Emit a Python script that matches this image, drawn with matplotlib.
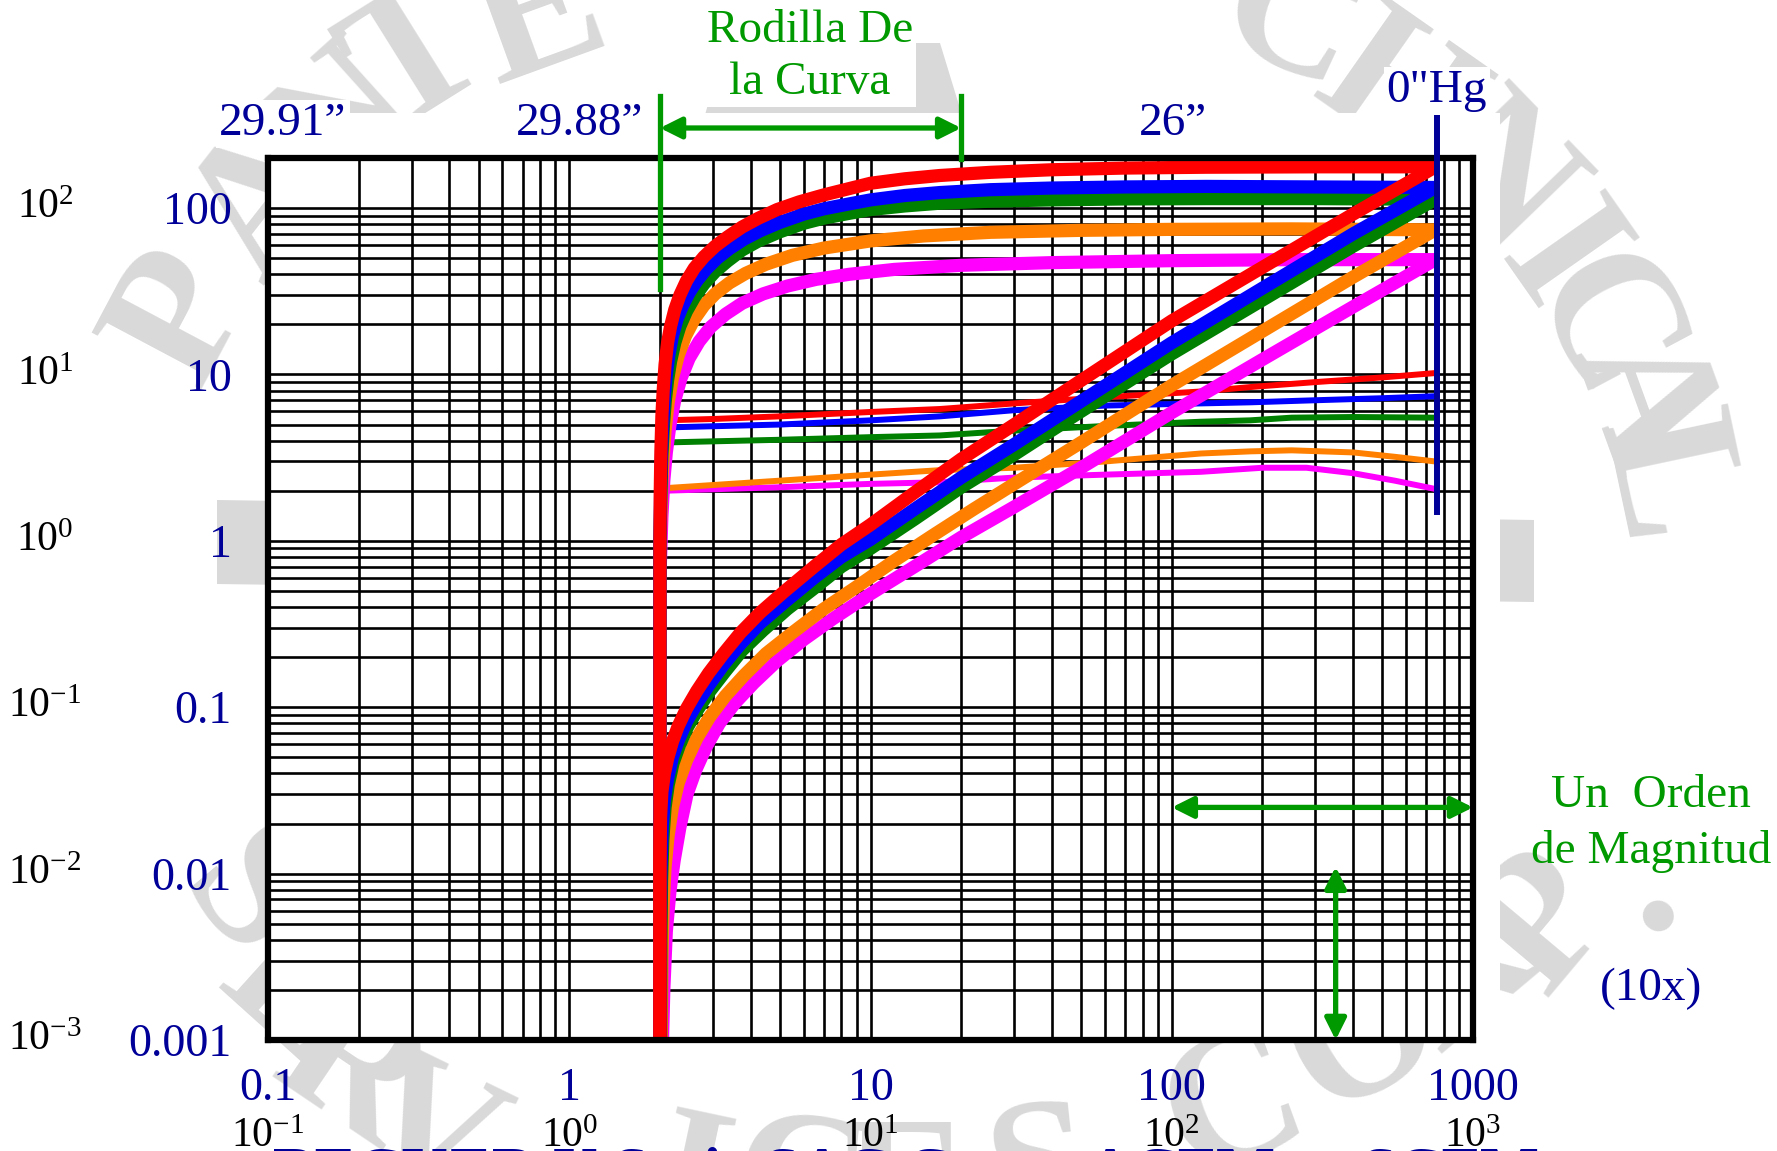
import matplotlib
matplotlib.use('Agg')
import matplotlib.pyplot as plt
from matplotlib.ticker import LogLocator, NullFormatter, FixedLocator, FixedFormatter
from matplotlib.transforms import blended_transform_factory
from matplotlib.patches import Polygon, Rectangle
from matplotlib.lines import Line2D

plt.rcParams['font.family'] = ['Liberation Serif', 'DejaVu Serif']
plt.rcParams['mathtext.default'] = 'regular'

# ---------------- data ----------------
x_ticks = [0.1, 1, 10, 100, 1000]
x_tick_labels = ['0.1', '1', '10', '100', '1000']
x_exp_labels = [r'$10^{-1}$', r'$10^{0}$', r'$10^{1}$', r'$10^{2}$', r'$10^{3}$']
y_ticks = [0.001, 0.01, 0.1, 1, 10, 100]
y_tick_labels = ['0.001', '0.01', '0.1', '1', '10', '100']
y_exp_labels = [r'$10^{-3}$', r'$10^{-2}$', r'$10^{-1}$', r'$10^{0}$', r'$10^{1}$', r'$10^{2}$']

# ACFM (plateau) curves
red_acfm_x = [2.0, 2.0, 2.005, 2.015, 2.03, 2.05, 2.08, 2.12, 2.17, 2.24, 2.33, 2.45, 2.6, 2.8, 3.05, 3.35, 3.75, 4.25, 4.9, 5.8, 7, 8.5, 10, 13, 17, 25, 40, 70, 130, 300, 750]
red_acfm_y = [0.001, 1, 2, 3.5, 5.6, 8, 11.5, 15.5, 19.5, 24.5, 30, 36.5, 43.5, 51, 59, 67, 77, 87, 98, 109, 120, 131, 141, 150, 157, 164, 170, 174, 176, 177, 177]
blue_acfm_x = [2.0, 2.0, 2.01, 2.025, 2.045, 2.07, 2.1, 2.14, 2.2, 2.28, 2.38, 2.5, 2.65, 2.85, 3.1, 3.4, 3.8, 4.3, 5, 6, 7, 8.5, 10, 13, 17, 25, 40, 70, 130, 300, 750]
blue_acfm_y = [0.001, 1, 2, 3.5, 5.2, 7.5, 10, 13, 17, 21.5, 26, 31, 36.5, 43, 50, 57, 65, 73, 82, 92, 99, 106, 112, 119, 124, 129, 132, 134, 135, 134, 133]
green_acfm_x = [2.0, 2.0, 2.015, 2.03, 2.055, 2.085, 2.12, 2.17, 2.24, 2.33, 2.45, 2.6, 2.8, 3.05, 3.35, 3.75, 4.25, 5, 6, 7, 8.5, 10, 13, 17, 25, 40, 70, 130, 300, 750]
green_acfm_y = [0.001, 1, 2, 3.3, 5, 7, 9.2, 12, 15.5, 19.5, 24, 29, 35, 41.5, 48, 56, 63.5, 72, 81, 87, 93, 98, 103, 107, 110, 112, 113.5, 114, 114, 113]
orange_acfm_x = [2.0, 2.0, 2.02, 2.045, 2.08, 2.13, 2.2, 2.3, 2.43, 2.6, 2.8, 3.05, 3.4, 3.85, 4.5, 5.5, 7, 10, 15, 25, 50, 100, 250, 750]
orange_acfm_y = [0.001, 0.8, 1.8, 3, 4.6, 6.8, 9.5, 13, 17, 21.5, 26, 30.5, 35.5, 40.5, 46, 52, 57.5, 63.5, 68, 71.5, 73.5, 74.5, 75, 74]
magenta_acfm_x = [2.0, 2.0, 2.03, 2.06, 2.1, 2.16, 2.24, 2.35, 2.5, 2.7, 2.95, 3.3, 3.75, 4.4, 5.3, 6.6, 8.5, 12, 20, 40, 100, 250, 750]
magenta_acfm_y = [0.001, 0.6, 1.4, 2.3, 3.4, 5, 7, 9.5, 12.5, 15.8, 19.3, 23, 26.8, 30.5, 34, 37.3, 40, 42.8, 45.3, 47, 48.3, 49, 49]

# SCFM (diagonal) curves
red_scfm_x = [2.0, 2.0, 2.01, 2.03, 2.07, 2.12, 2.2, 2.3, 2.45, 2.65, 2.9, 3.25, 3.7, 4.3, 5.2, 6.5, 8, 10, 14, 20, 30, 50, 100, 200, 400, 750]
red_scfm_y = [0.001, 0.012, 0.022, 0.031, 0.04, 0.049, 0.062, 0.077, 0.098, 0.125, 0.16, 0.21, 0.28, 0.37, 0.5, 0.7, 0.95, 1.25, 1.95, 3.1, 5.0, 9.2, 21, 44, 92, 177]
blue_scfm_x = [2.0, 2.005, 2.015, 2.035, 2.07, 2.12, 2.2, 2.3, 2.45, 2.65, 2.9, 3.25, 3.7, 4.3, 5.2, 6.5, 8, 10, 14, 20, 30, 50, 100, 200, 400, 750]
blue_scfm_y = [0.001, 0.004, 0.01, 0.019, 0.028, 0.037, 0.05, 0.063, 0.082, 0.105, 0.135, 0.18, 0.24, 0.32, 0.43, 0.6, 0.8, 1.02, 1.55, 2.4, 3.8, 6.9, 15.5, 33, 70, 133]
green_scfm_x = [2.01, 2.015, 2.025, 2.045, 2.08, 2.13, 2.21, 2.32, 2.47, 2.67, 2.93, 3.3, 3.75, 4.4, 5.3, 6.6, 8, 10, 14, 20, 30, 50, 100, 200, 400, 750]
green_scfm_y = [0.001, 0.004, 0.009, 0.016, 0.025, 0.034, 0.046, 0.059, 0.076, 0.097, 0.125, 0.165, 0.22, 0.29, 0.39, 0.53, 0.7, 0.9, 1.35, 2.1, 3.3, 6.0, 13.3, 28, 59, 113]
orange_scfm_x = [2.02, 2.03, 2.05, 2.08, 2.13, 2.2, 2.3, 2.45, 2.65, 2.92, 3.3, 3.8, 4.5, 5.5, 7, 9, 12, 16, 22, 30, 50, 100, 200, 400, 750]
orange_scfm_y = [0.001, 0.003, 0.0065, 0.011, 0.017, 0.025, 0.035, 0.048, 0.065, 0.087, 0.117, 0.155, 0.21, 0.28, 0.39, 0.53, 0.76, 1.07, 1.55, 2.2, 3.9, 8.6, 18.2, 38.5, 74]
magenta_scfm_x = [2.04, 2.06, 2.1, 2.16, 2.23, 2.33, 2.46, 2.63, 2.85, 3.15, 3.55, 4.1, 4.9, 6, 7.5, 10, 14, 20, 30, 50, 100, 200, 400, 750]
magenta_scfm_y = [0.001, 0.002, 0.0045, 0.0079, 0.012, 0.019, 0.03, 0.042, 0.058, 0.08, 0.106, 0.14, 0.19, 0.255, 0.34, 0.48, 0.7, 1.05, 1.6, 2.75, 5.9, 12.3, 25.5, 49]

# thin curves
red_thin_x = [2.05, 3, 5, 10, 17, 30, 60, 125, 182, 300, 500, 750]
red_thin_y = [5.3, 5.4, 5.6, 5.95, 6.2, 6.7, 7.3, 7.9, 8.4, 9.0, 9.6, 10.2]
blue_thin_x = [2.05, 5, 10, 17, 30, 60, 125, 182, 300, 500, 750]
blue_thin_y = [4.8, 5.0, 5.3, 5.6, 6.1, 6.5, 6.7, 6.8, 7.0, 7.2, 7.4]
green_thin_x = [2.05, 5, 10, 17, 30, 60, 125, 182, 250, 400, 750]
green_thin_y = [3.9, 4.05, 4.2, 4.3, 4.6, 4.9, 5.2, 5.3, 5.5, 5.55, 5.5]
orange_thin_x = [2.05, 5, 10, 17, 30, 60, 125, 182, 250, 400, 550, 750]
orange_thin_y = [2.07, 2.3, 2.5, 2.66, 2.75, 3.0, 3.35, 3.45, 3.5, 3.4, 3.2, 3.0]
magenta_thin_x = [2.05, 5, 10, 17, 30, 60, 125, 200, 280, 400, 550, 750]
magenta_thin_y = [2.0, 2.1, 2.2, 2.25, 2.4, 2.5, 2.6, 2.75, 2.75, 2.55, 2.3, 2.05]

# annotation reference values
knee_left_x = 2.0
knee_right_x = 20.0
atm_x = 760.0
order_arrow_y = 0.025
order_arrow_x0, order_arrow_x1 = 100, 1000
vert_arrow_x = 350
vert_arrow_y0, vert_arrow_y1 = 0.001, 0.011

# ---------------- style ----------------
W, H = 1777, 1151
RED, BLUE, GREEN, ORANGE, MAGENTA = '#ff0000', '#0000ff', '#008000', '#ff8000', '#ff00ff'
NAVY = '#000099'
AGREEN = '#009900'
WM = '#d9d9d9'

fig = plt.figure(figsize=(W / 100, H / 100), dpi=100)
fig.patch.set_facecolor('white')

def fx(px):
    return px / W

def fy(py):
    return 1 - py / H

ax = fig.add_axes([fx(268), fy(1040), fx(1473) - fx(268), fy(158) - fy(1040)])
ax.set_xscale('log')
ax.set_yscale('log')
ax.set_xlim(0.1, 1000)
ax.set_ylim(0.001, 200)
ax.set_facecolor('white')

ax.xaxis.set_major_locator(FixedLocator(x_ticks))
ax.xaxis.set_major_formatter(FixedFormatter(x_tick_labels))
ax.yaxis.set_major_locator(FixedLocator(y_ticks))
ax.yaxis.set_major_formatter(FixedFormatter(y_tick_labels))
ax.xaxis.set_minor_locator(LogLocator(base=10, subs=range(2, 10), numticks=20))
ax.yaxis.set_minor_locator(LogLocator(base=10, subs=range(2, 10), numticks=20))
ax.xaxis.set_minor_formatter(NullFormatter())
ax.yaxis.set_minor_formatter(NullFormatter())
ax.tick_params(which='both', length=0)
ax.tick_params(axis='y', which='major', labelsize=33, labelcolor=NAVY, pad=26)
ax.tick_params(axis='x', which='major', labelsize=33, labelcolor=NAVY, pad=20)
ax.grid(True, which='both', color='black', lw=1.9)
ax.set_axisbelow(True)
for s in ax.spines.values():
    s.set_linewidth(4.5)
    s.set_color('black')
    s.set_zorder(6)

# ---------------- watermark ----------------
wm_letters = [
    ('P', 185, 318, 62), ('A', 268, 205, 52), ('N', 345, 128, 42), ('T', 418, 62, 32),
    ('E', 540, 20, 20), ('C', 700, -75, 10), ('T', 990, -100, -5), ('E', 1140, -80, -15),
    ('C', 1290, 25, -25), ('H', 1395, 100, -35), ('N', 1495, 180, -46), ('I', 1555, 262, -55),
    ('C', 1598, 330, -62), ('A', 1638, 402, -70), ('L', 1660, 480, -78),
    ('S', 245, 900, -50), ('E', 292, 995, -42), ('R', 350, 1075, -34), ('V', 425, 1140, -26),
    ('I', 690, 1190, -12), ('C', 800, 1195, -6), ('E', 905, 1200, 0), ('S', 1040, 1180, 6),
    ('C', 1235, 1110, 20), ('O', 1365, 1040, 30), ('R', 1460, 975, 40), ('P', 1547, 925, 50),
    ('.', 1628, 890, 55),
]
for ch, px, py, rot in wm_letters:
    fig.text(fx(px), fy(py), ch, fontsize=135, fontweight='bold', color=WM, rotation=rot,
             ha='center', va='center', rotation_mode='anchor', zorder=-3)

fig.add_artist(Polygon([(fx(217), fy(500)), (fx(1534), fy(520)), (fx(1534), fy(602)), (fx(217), fy(584))],
                       closed=True, transform=fig.transFigure, facecolor=WM, edgecolor='none', zorder=-2))
fig.add_artist(Polygon([(fx(725), fy(43)), (fx(940), fy(43)), (fx(962), fy(115)), (fx(705), fy(115))],
                       closed=True, transform=fig.transFigure, facecolor=WM, edgecolor='none', zorder=-2))
fig.add_artist(Rectangle((fx(268), fy(1040)), fx(1500) - fx(268), fy(113) - fy(1040),
                         transform=fig.transFigure, facecolor='white', edgecolor='none', zorder=-1))

# ---------------- curves ----------------
thin = [
    (magenta_thin_x, magenta_thin_y, MAGENTA), (orange_thin_x, orange_thin_y, ORANGE),
    (green_thin_x, green_thin_y, GREEN), (blue_thin_x, blue_thin_y, BLUE), (red_thin_x, red_thin_y, RED),
]
for xs, ys, c in thin:
    ax.plot(xs, ys, color=c, lw=4.3, solid_joinstyle='round', solid_capstyle='butt', zorder=3)

thick = [
    (magenta_acfm_x, magenta_acfm_y, magenta_scfm_x, magenta_scfm_y, MAGENTA),
    (orange_acfm_x, orange_acfm_y, orange_scfm_x, orange_scfm_y, ORANGE),
    (green_acfm_x, green_acfm_y, green_scfm_x, green_scfm_y, GREEN),
    (blue_acfm_x, blue_acfm_y, blue_scfm_x, blue_scfm_y, BLUE),
    (red_acfm_x, red_acfm_y, red_scfm_x, red_scfm_y, RED),
]
for ax_x, ax_y, sx, sy, c in thick:
    ax.plot(ax_x, ax_y, color=c, lw=9.5, solid_joinstyle='round', solid_capstyle='butt', zorder=4)
    ax.plot(sx, sy, color=c, lw=9.5, solid_joinstyle='round', solid_capstyle='butt', zorder=4)

# ---------------- exponent labels ----------------
ty = blended_transform_factory(fig.transFigure, ax.transData)
for v, lab in zip(y_ticks, y_exp_labels):
    ax.text(fx(45), v, lab, transform=ty, fontsize=30, color='black', ha='center', va='center', clip_on=False)
tx = blended_transform_factory(ax.transData, fig.transFigure)
for v, lab in zip(x_ticks, x_exp_labels):
    ax.text(v, fy(1137), lab, transform=tx, fontsize=30, color='black', ha='center', va='center',
            clip_on=False, zorder=6)

# ---------------- annotations ----------------
wbox = dict(facecolor='white', edgecolor='none', pad=2)
fig.text(fx(283), fy(124), '29.91\u201d', fontsize=34, color=NAVY, ha='center', va='center', bbox=wbox, zorder=5)
fig.text(fx(580), fy(124), '29.88\u201d', fontsize=34, color=NAVY, ha='center', va='center', bbox=wbox, zorder=5)
fig.text(fx(1173), fy(124), '26\u201d', fontsize=34, color=NAVY, ha='center', va='center', bbox=wbox, zorder=5)
fig.text(fx(1437), fy(91), '0"Hg', fontsize=34, color=NAVY, ha='center', va='center', bbox=wbox, zorder=5)
fig.text(fx(810), fy(57), 'Rodilla De\nla Curva', fontsize=34, color=AGREEN, ha='center', va='center',
         linespacing=1.3, bbox=wbox, zorder=5)
fig.text(fx(1651), fy(824), 'Un  Orden\nde Magnitud', fontsize=34, color=AGREEN, ha='center', va='center',
         linespacing=1.38, zorder=5)
fig.text(fx(1651), fy(989), '(10x)', fontsize=34, color=NAVY, ha='center', va='center', zorder=5)
fig.text(fx(906), fy(1147), 'BECKER U Serie SAC Curva ACFM vs SCFM', fontsize=45, fontweight='bold',
         color=NAVY, ha='center', va='top', zorder=4)

# green knee markers
ax.add_line(Line2D([knee_left_x, knee_left_x], [fy(96), fy(289)], transform=tx, color=AGREEN, lw=3.8,
                   clip_on=False, zorder=7))
ax.add_line(Line2D([knee_right_x, knee_right_x], [fy(96), fy(159)], transform=tx, color=AGREEN, lw=3.8,
                   clip_on=False, zorder=7))
ax.annotate('', xy=(knee_right_x, fy(128)), xytext=(knee_left_x, fy(128)),
            xycoords=('data', 'figure fraction'), textcoords=('data', 'figure fraction'),
            arrowprops=dict(arrowstyle='<|-|>', color=AGREEN, lw=3.8, mutation_scale=32,
                            shrinkA=0, shrinkB=0), annotation_clip=False, zorder=7)

# atmospheric pressure line
ax.add_line(Line2D([atm_x, atm_x], [fy(113), fy(512)], transform=tx, color=NAVY, lw=4.3,
                   clip_on=False, zorder=8))

# order of magnitude arrows
ax.annotate('', xy=(order_arrow_x1, order_arrow_y), xytext=(order_arrow_x0, order_arrow_y),
            arrowprops=dict(arrowstyle='<|-|>', color=AGREEN, lw=3.8, mutation_scale=32,
                            shrinkA=0, shrinkB=0), annotation_clip=False, zorder=7)
ax.annotate('', xy=(vert_arrow_x, vert_arrow_y0), xytext=(vert_arrow_x, vert_arrow_y1),
            arrowprops=dict(arrowstyle='<|-|>', color=AGREEN, lw=3.8, mutation_scale=32,
                            shrinkA=0, shrinkB=0), annotation_clip=False, zorder=7)

fig.savefig('out.png', dpi=100)
